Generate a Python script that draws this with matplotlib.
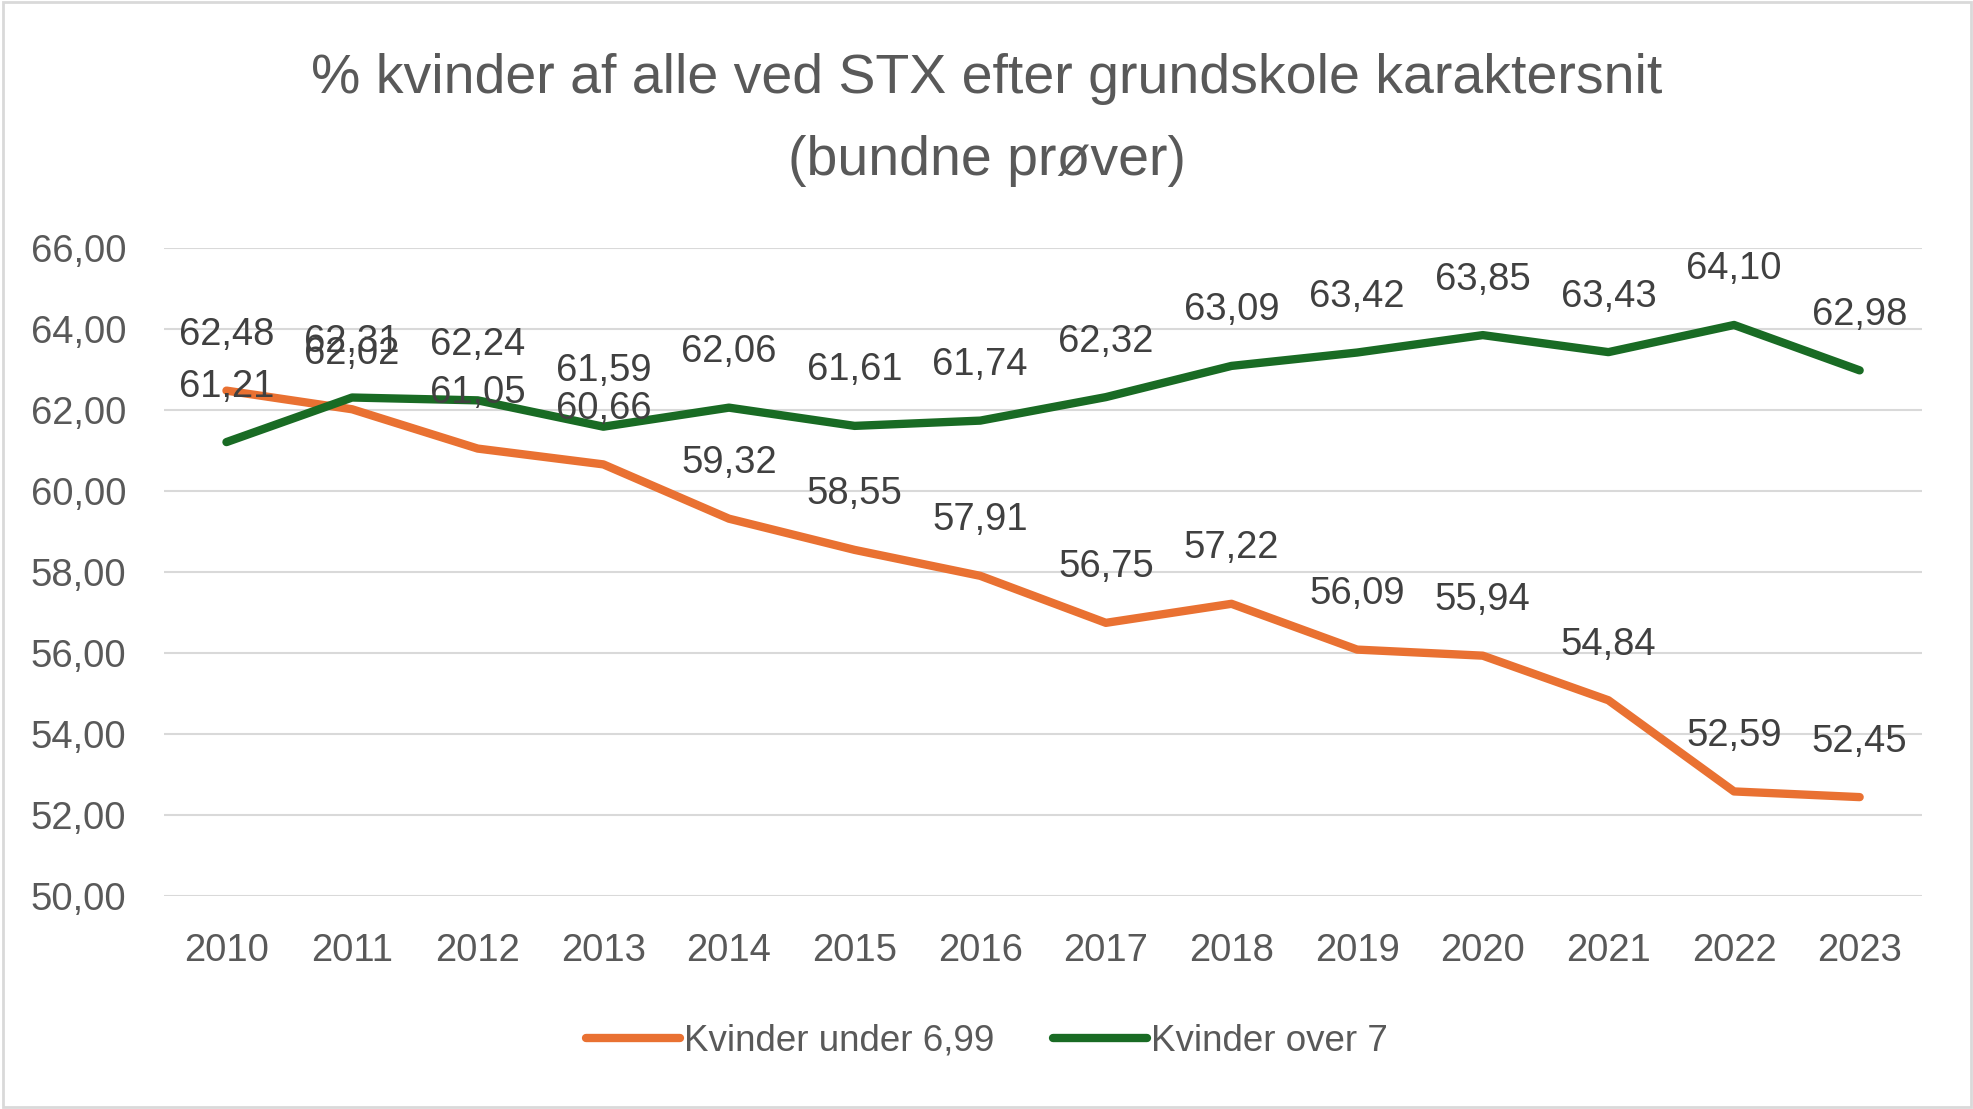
import matplotlib
matplotlib.use("Agg")
import matplotlib.pyplot as plt
from matplotlib.patches import Rectangle

# Data
years = ["2010", "2011", "2012", "2013", "2014", "2015", "2016",
         "2017", "2018", "2019", "2020", "2021", "2022", "2023"]
under_699 = [62.48, 62.02, 61.05, 60.66, 59.32, 58.55, 57.91,
             56.75, 57.22, 56.09, 55.94, 54.84, 52.59, 52.45]
over_7 = [61.21, 62.31, 62.24, 61.59, 62.06, 61.61, 61.74,
          62.32, 63.09, 63.42, 63.85, 63.43, 64.10, 62.98]
y_ticks = [50, 52, 54, 56, 58, 60, 62, 64, 66]

orange = "#E97132"
green = "#196B24"
text_col = "#595959"
label_col = "#404040"

plt.rcParams['font.family'] = ['Liberation Sans', 'DejaVu Sans']


def fmt(v):
    return f"{v:.2f}".replace(".", ",")


fig = plt.figure(figsize=(19.74, 11.09), dpi=100)
ax = fig.add_axes([0.0829, 0.1917, 0.891, 0.5847])

x = list(range(len(years)))
ax.plot(x, under_699, color=orange, lw=6, solid_capstyle="round",
        label="Kvinder under 6,99", zorder=3)
ax.plot(x, over_7, color=green, lw=6, solid_capstyle="round",
        label="Kvinder over 7", zorder=3)

# Data labels above each point
for series in (under_699, over_7):
    for xi, v in zip(x, series):
        ax.annotate(fmt(v), (xi, v), xytext=(0, 40), textcoords="offset points",
                    ha="center", va="center", fontsize=27.5, color=label_col,
                    zorder=4)

ax.set_xlim(-0.5, len(years) - 0.5)
ax.set_ylim(50, 66)
ax.set_xticks(x)
ax.set_xticklabels(years)
ax.set_yticks(y_ticks)
ax.set_yticklabels([fmt(t) for t in y_ticks])
ax.tick_params(axis="both", length=0, labelsize=27.5, labelcolor=text_col)
ax.tick_params(axis="x", pad=26)
ax.tick_params(axis="y", pad=27)
ax.grid(axis="y", color="#D9D9D9", lw=1.5)
ax.set_axisbelow(True)
for s in ax.spines.values():
    s.set_visible(False)

fig.text(0.5, 0.929, "% kvinder af alle ved STX efter grundskole karaktersnit",
         ha="center", va="center", fontsize=40, color=text_col)
fig.text(0.5, 0.855, "(bundne prøver)",
         ha="center", va="center", fontsize=40, color=text_col)

leg = fig.legend(loc="center", bbox_to_anchor=(0.5, 0.061), ncol=2, frameon=False,
                 fontsize=26.5, handlelength=2.55, columnspacing=1.6,
                 handletextpad=0.1)
for t in leg.get_texts():
    t.set_color(text_col)

# light border around the whole chart
fig.patches.append(Rectangle((0.0015, 0.002), 0.997, 0.996, transform=fig.transFigure,
                             fill=False, edgecolor="#D9D9D9", lw=2))

fig.savefig("out.png", dpi=100, facecolor="white")
